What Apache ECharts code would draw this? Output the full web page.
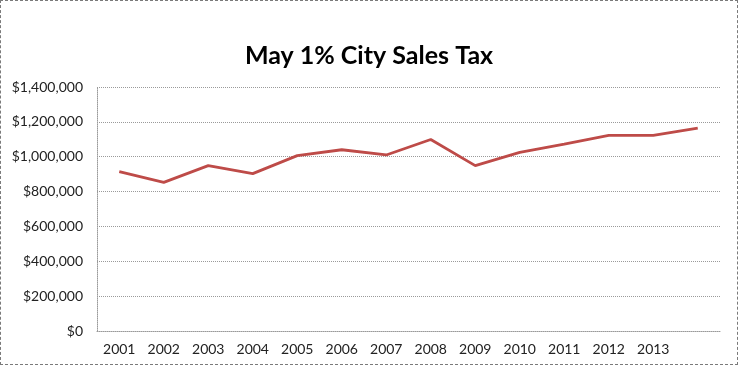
<!DOCTYPE html>
<html><head><meta charset="utf-8">
<script src="https://cdn.jsdelivr.net/npm/echarts@6/dist/echarts.min.js"></script>
<style>html,body{margin:0;padding:0;background:#fff}#c{width:738px;height:365px;box-sizing:border-box;border:1px dashed #7a7a7a}</style>
</head><body><div id="c"></div>
<script>
const years = ['2001','2002','2003','2004','2005','2006','2007','2008','2009','2010','2011','2012','2013',''];
const sales = [914000,853000,949000,903000,1006000,1040000,1010000,1099000,949000,1025000,1072000,1122000,1122000,1164000];
const yTicks = [0,200000,400000,600000,800000,1000000,1200000,1400000];
const chart = echarts.init(document.getElementById('c'));
chart.setOption({
  animation:false,
  title:{text:'May 1% City Sales Tax',left:'center',top:37,textStyle:{fontFamily:'Lato',fontWeight:'bold',fontSize:25,color:'#000'}},
  grid:{left:96,right:17,top:86,bottom:33,containLabel:false},
  xAxis:{type:'category',data:years,boundaryGap:true,
    axisLine:{show:true,lineStyle:{color:'#9a9a9a',type:'dotted'}},
    axisTick:{show:false},
    axisLabel:{color:'#222',fontFamily:'Lato',fontSize:14,margin:11,interval:0}},
  yAxis:{type:'value',min:yTicks[0],max:yTicks[yTicks.length-1],interval:200000,
    axisLine:{show:true,lineStyle:{color:'#9a9a9a',type:'dotted'}},
    axisTick:{show:false},
    splitLine:{lineStyle:{color:'#9a9a9a',type:'dotted',width:1}},
    axisLabel:{color:'#222',fontFamily:'Lato',fontSize:14,margin:14,
      formatter:v=>'$'+v.toLocaleString('en-US')}},
  series:[{type:'line',data:sales,symbol:'none',lineStyle:{color:'#BE4B48',width:2.8}}]
});
</script></body></html>
